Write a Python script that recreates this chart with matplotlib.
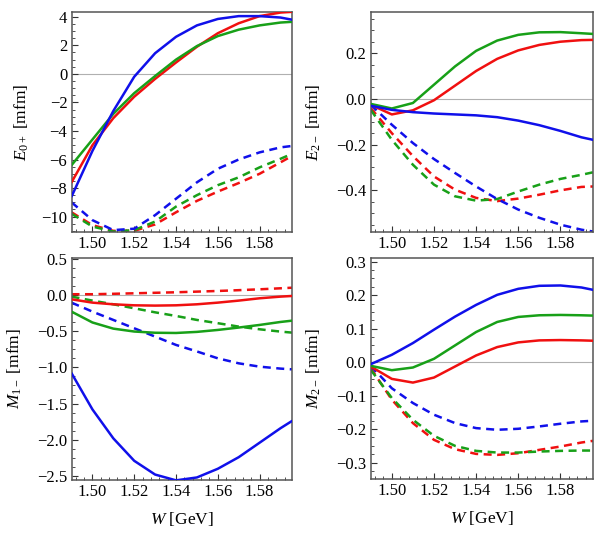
import numpy as np
import matplotlib
matplotlib.use("Agg")
import matplotlib.pyplot as plt
from matplotlib.ticker import MultipleLocator, AutoMinorLocator

plt.rcParams["font.family"] = ["Liberation Serif", "DejaVu Serif"]
plt.rcParams["mathtext.fontset"] = "custom"
plt.rcParams["mathtext.rm"] = "Liberation Serif"
plt.rcParams["mathtext.it"] = "Liberation Serif:italic"

# W grid (GeV) at which values were read
W = [1.49, 1.50, 1.51, 1.52, 1.53, 1.54, 1.55, 1.56, 1.57, 1.58, 1.59, 1.5955]

# E0+ [mfm]
e0_red = [-7.6, -5.0, -3.1, -1.6, -0.35, 0.8, 1.9, 2.85, 3.55, 4.05, 4.3, 4.35]
e0_green = [-6.4, -4.6, -2.8, -1.35, -0.15, 1.0, 1.95, 2.65, 3.1, 3.4, 3.6, 3.65]
e0_blue = [-8.6, -5.4, -2.6, -0.2, 1.45, 2.6, 3.4, 3.85, 4.05, 4.05, 3.95, 3.8]
e0_red_d = [-9.7, -10.6, -11.0, -11.0, -10.55, -9.7, -8.9, -8.25, -7.65, -7.0, -6.2, -5.75]
e0_green_d = [-9.8, -10.7, -11.05, -10.95, -10.35, -9.3, -8.5, -7.8, -7.25, -6.55, -5.95, -5.6]
e0_blue_d = [-9.0, -10.25, -10.95, -10.85, -9.9, -8.75, -7.6, -6.65, -6.0, -5.5, -5.15, -5.05]

# E2- [mfm]
e2_red = [-0.026, -0.068, -0.05, -0.006, 0.058, 0.122, 0.175, 0.212, 0.236, 0.25, 0.257, 0.258]
e2_green = [-0.022, -0.042, -0.018, 0.062, 0.142, 0.21, 0.255, 0.28, 0.291, 0.292, 0.287, 0.284]
e2_blue = [-0.03, -0.048, -0.058, -0.064, -0.068, -0.072, -0.08, -0.095, -0.115, -0.14, -0.168, -0.179]
e2_red_d = [-0.04, -0.15, -0.25, -0.339, -0.397, -0.433, -0.447, -0.436, -0.419, -0.4, -0.385, -0.383]
e2_green_d = [-0.048, -0.179, -0.288, -0.375, -0.426, -0.445, -0.438, -0.405, -0.375, -0.35, -0.332, -0.321]
e2_blue_d = [-0.026, -0.113, -0.193, -0.263, -0.324, -0.383, -0.438, -0.484, -0.52, -0.55, -0.572, -0.58]

# M1- [mfm]
m1_red = [-0.06, -0.106, -0.129, -0.143, -0.147, -0.143, -0.129, -0.106, -0.078, -0.046, -0.023, -0.014]
m1_green = [-0.23, -0.38, -0.465, -0.505, -0.522, -0.525, -0.51, -0.483, -0.45, -0.414, -0.373, -0.355]
m1_blue = [-1.08, -1.58, -1.98, -2.29, -2.48, -2.56, -2.52, -2.4, -2.24, -2.04, -1.84, -1.74]
m1_red_d = [0.01, 0.01, 0.016, 0.023, 0.03, 0.037, 0.046, 0.055, 0.066, 0.078, 0.092, 0.1]
m1_green_d = [-0.023, -0.078, -0.129, -0.184, -0.24, -0.29, -0.345, -0.39, -0.437, -0.474, -0.506, -0.52]
m1_blue_d = [-0.106, -0.23, -0.345, -0.46, -0.575, -0.69, -0.78, -0.875, -0.944, -0.99, -1.017, -1.027]

# M2- [mfm]
m2_red = [-0.013, -0.05, -0.061, -0.046, -0.013, 0.02, 0.045, 0.059, 0.065, 0.066, 0.065, 0.064]
m2_green = [-0.011, -0.024, -0.016, 0.01, 0.05, 0.09, 0.12, 0.135, 0.14, 0.141, 0.14, 0.139]
m2_blue = [-0.006, 0.022, 0.057, 0.097, 0.136, 0.171, 0.201, 0.219, 0.228, 0.229, 0.223, 0.216]
m2_red_d = [-0.018, -0.112, -0.182, -0.232, -0.26, -0.274, -0.277, -0.272, -0.262, -0.252, -0.24, -0.235]
m2_green_d = [-0.023, -0.107, -0.172, -0.22, -0.25, -0.265, -0.27, -0.27, -0.267, -0.265, -0.264, -0.264]
m2_blue_d = [-0.011, -0.078, -0.122, -0.157, -0.182, -0.197, -0.202, -0.199, -0.192, -0.184, -0.177, -0.175]

RED, GREEN, BLUE = "#f01010", "#18a018", "#1010ea"

panels = [
    # (rect, ylabel, ylim, major, solids, dashed, label x, has xlabel)
    ([0.1196, 0.5759, 0.3687, 0.4022], r"$E_{0+}$ [mfm]", (-11.08, 4.34), 2,
     [e0_red, e0_green, e0_blue], [e0_red_d, e0_green_d, e0_blue_d], -0.185, False),
    ([0.620, 0.5759, 0.3717, 0.4022], r"$E_{2-}$ [mfm]", (-0.582, 0.38), 0.2,
     [e2_red, e2_green, e2_blue], [e2_red_d, e2_green_d, e2_blue_d], -0.215, False),
    ([0.1196, 0.1225, 0.3687, 0.4058], r"$M_{1-}$ [mfm]", (-2.555, 0.51), 0.5,
     [m1_red, m1_green, m1_blue], [m1_red_d, m1_green_d, m1_blue_d], -0.215, True),
    ([0.620, 0.1243, 0.3717, 0.4040], r"$M_{2-}$ [mfm]", (-0.349, 0.311), 0.1,
     [m2_red, m2_green, m2_blue], [m2_red_d, m2_green_d, m2_blue_d], -0.215, True),
]

fig = plt.figure(figsize=(5.98, 5.47), dpi=100)
for rect, ylab, ylim, major, solids, dashed, lx, bottom in panels:
    ax = fig.add_axes(rect)
    ax.axhline(0, color="#b0b0b0", lw=0.8, zorder=1)
    for ys, c in zip(solids, [RED, GREEN, BLUE]):
        ax.plot(W, ys, color=c, lw=1.8, solid_capstyle="round", zorder=3)
    for ys, c in zip(dashed, [RED, GREEN, BLUE]):
        ax.plot(W, ys, color=c, lw=1.8, dashes=(3.2, 2.2), zorder=2)
    ax.set_xlim(1.49, 1.5955)
    ax.set_ylim(*ylim)
    ax.xaxis.set_major_locator(MultipleLocator(0.02))
    ax.xaxis.set_minor_locator(AutoMinorLocator(5))
    ax.yaxis.set_major_locator(MultipleLocator(major))
    ax.yaxis.set_minor_locator(AutoMinorLocator(4))
    ax.xaxis.set_major_formatter(plt.FuncFormatter(lambda v, p: f"{v:.2f}"))
    if major >= 1:
        ax.yaxis.set_major_formatter(plt.FuncFormatter(lambda v, p: f"{v:.0f}".replace("-", "\u2212")))
    else:
        ax.yaxis.set_major_formatter(plt.FuncFormatter(lambda v, p: f"{v:.1f}".replace("-", "\u2212")))
    ax.tick_params(which="both", direction="in", top=False, right=False,
                   labelsize=12, colors="#333333", labelcolor="black")
    ax.tick_params(which="major", length=4.5, width=0.8, pad=3)
    ax.tick_params(which="minor", length=2.5, width=0.6)
    for s in ax.spines.values():
        s.set_color("#555555")
        s.set_linewidth(1.1)
    ax.set_ylabel(ylab, fontsize=12.5)
    ax.yaxis.set_label_coords(lx, 0.5)
    if bottom:
        ax.set_xlabel(r"$W$ [GeV]", fontsize=12.5)
        ax.xaxis.set_label_coords(0.5, -0.135)

fig.savefig("out.png", dpi=100)
